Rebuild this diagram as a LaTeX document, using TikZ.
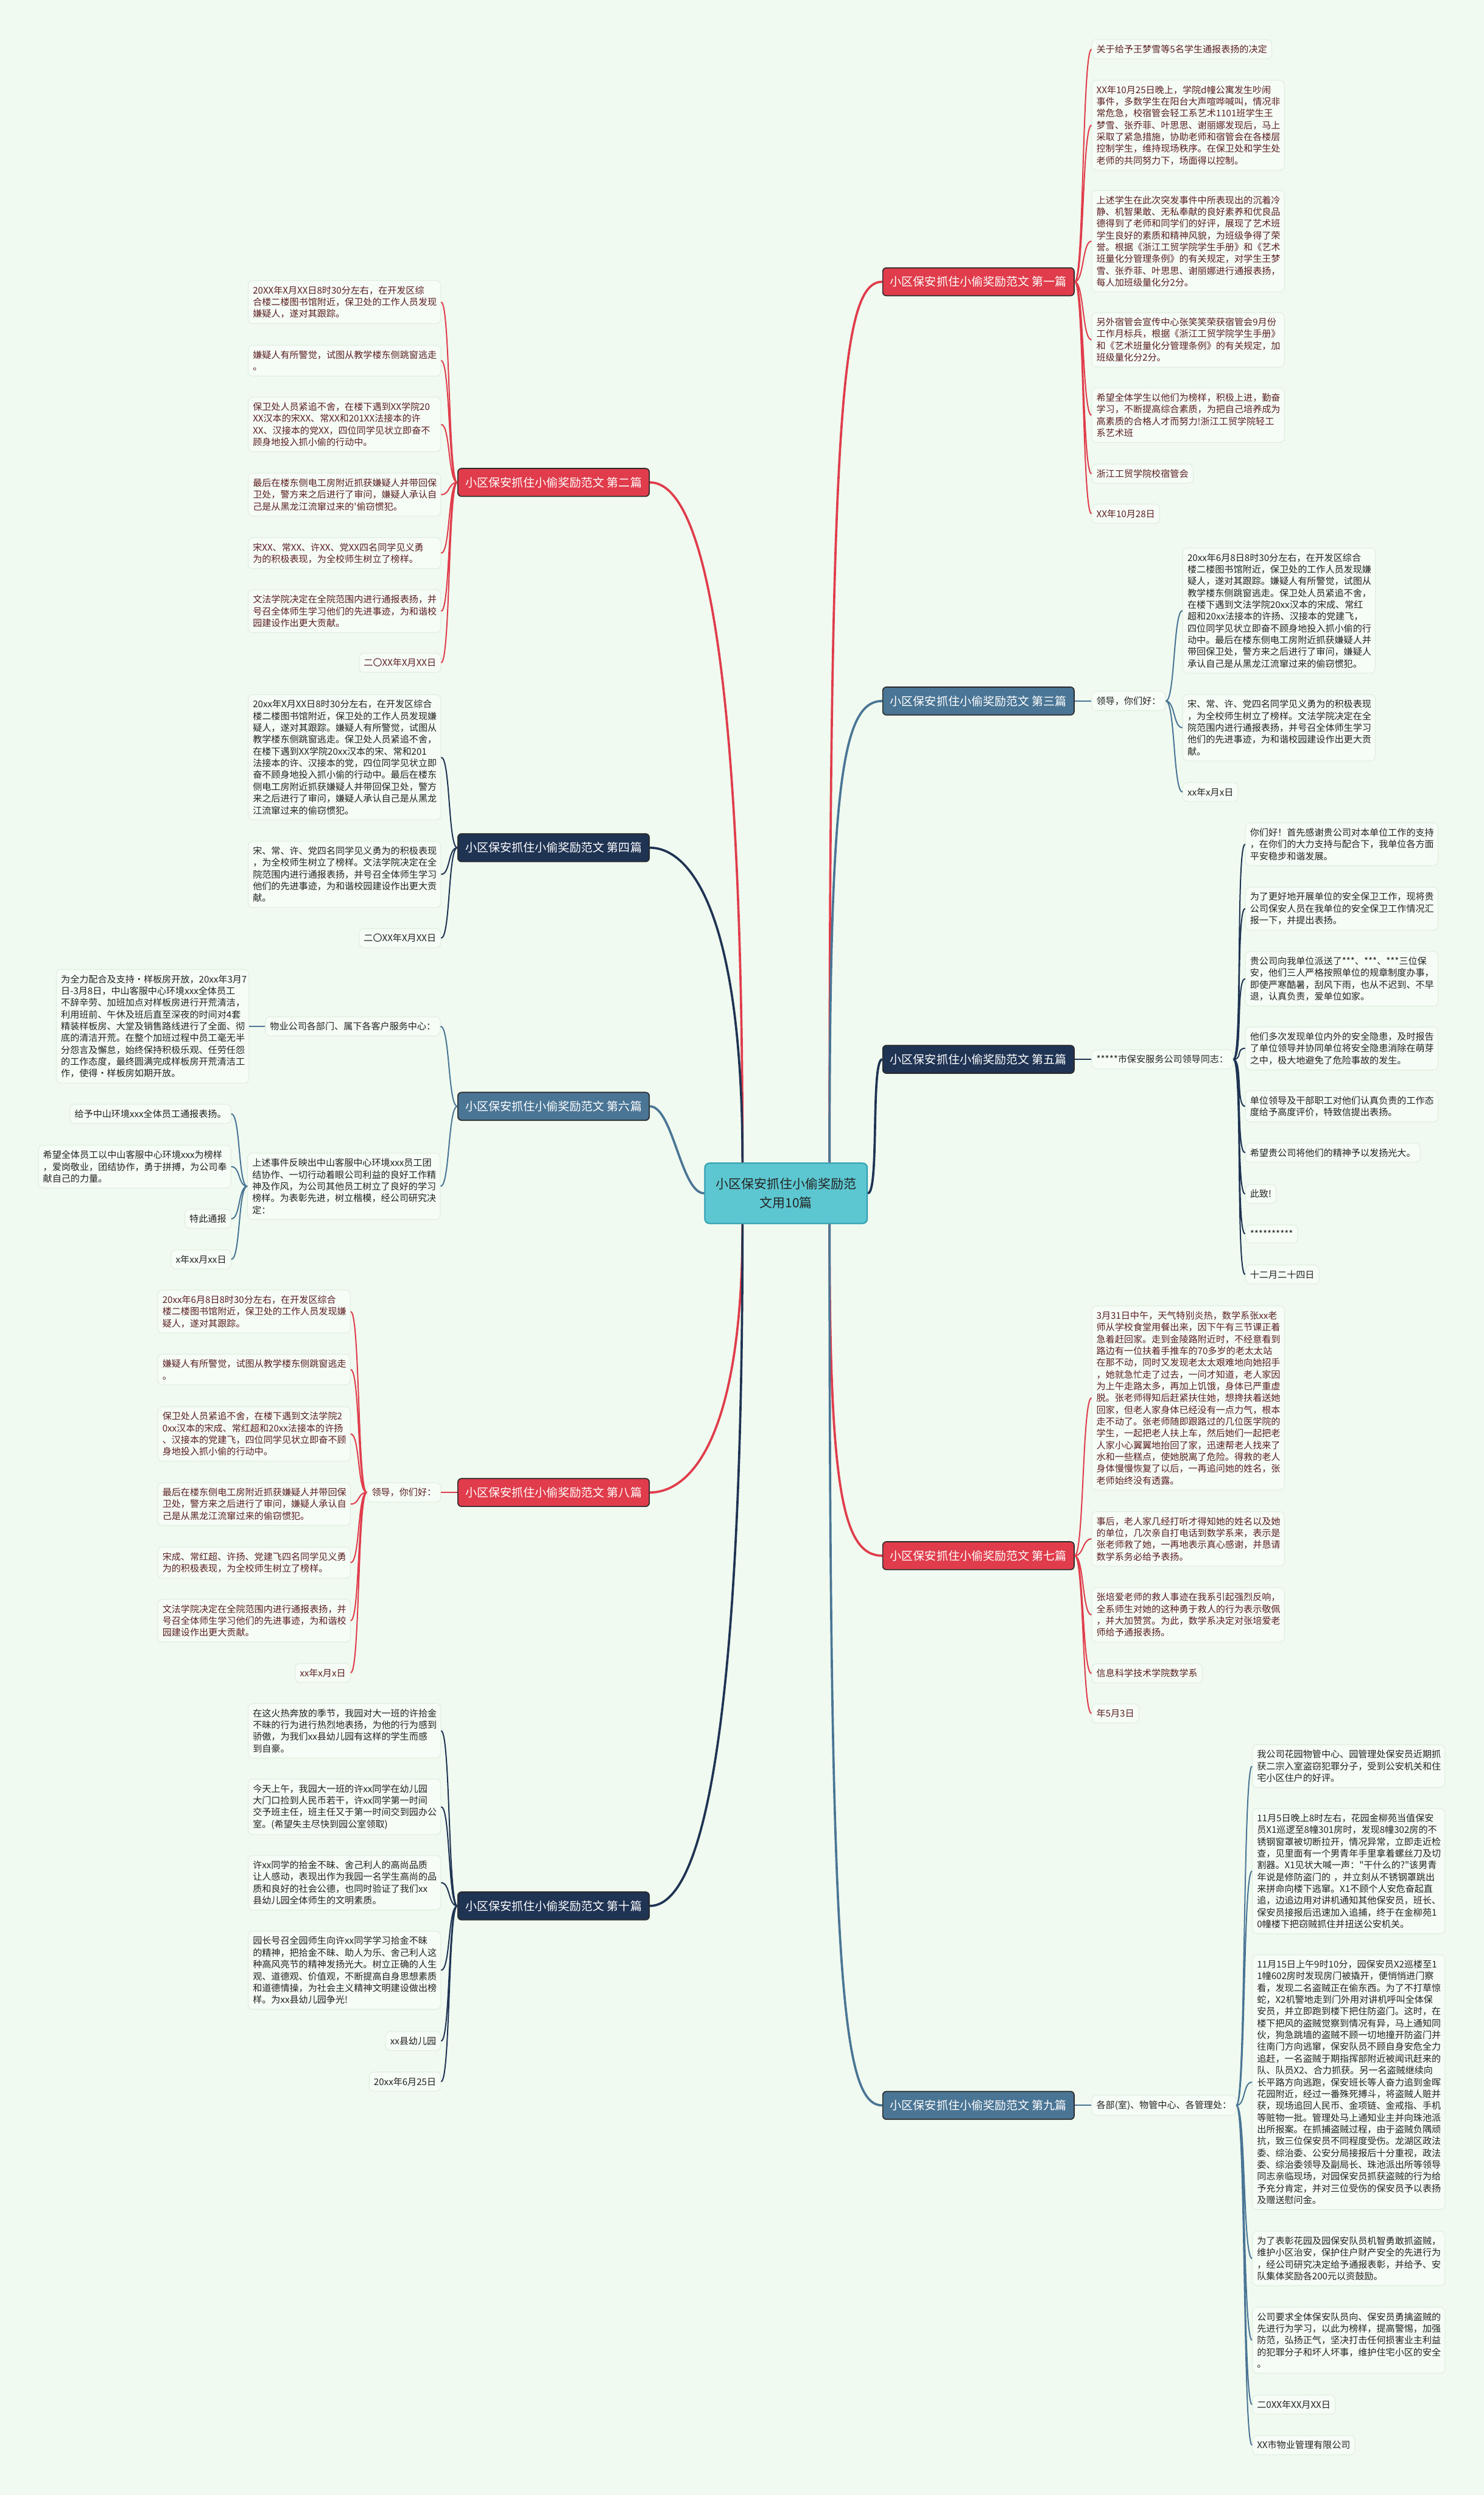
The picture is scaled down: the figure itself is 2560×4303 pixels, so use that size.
\documentclass[tikz,border=0pt]{standalone}
\usepackage{fontspec}
\newfontfamily\cjk{Noto Sans CJK SC}
\usepackage{tikz}
\usetikzlibrary{calc}

\definecolor{bgc}{HTML}{F0FAF0}
\definecolor{redc}{HTML}{E03C4B}
\definecolor{navyc}{HTML}{1F3353}
\definecolor{steelc}{HTML}{4A7595}
\definecolor{rootc}{HTML}{5DC7D1}
\definecolor{rootln}{HTML}{2E9DB0}
\definecolor{leaffill}{HTML}{F6FCF6}
\definecolor{leafline}{HTML}{DFEDDF}
\definecolor{redtxt}{HTML}{5A1F22}
\definecolor{darktxt}{HTML}{222222}
\definecolor{edgec}{HTML}{2B2B2B}

\tikzset{
  topic/.style={draw=edgec, line width=0.5pt, rounded corners=1.8pt,
    minimum width=93.9pt, minimum height=13.7pt, inner sep=0pt, text=white,
    font=\cjk\fontsize{5.69pt}{6.8pt}\selectfont},
  root/.style={draw=rootln, fill=rootc, line width=0.6pt, rounded corners=2.3pt,
    minimum width=79.7pt, minimum height=29.6pt, align=center, text=darktxt,
    font=\cjk\fontsize{6.26pt}{9.2pt}\selectfont},
  leaf/.style={draw=leafline, fill=leaffill, line width=0.3pt, rounded corners=2.3pt,
    inner xsep=2.3pt, inner ysep=2.6pt, align=left, text=darktxt,
    font=\cjk\fontsize{4.51pt}{5.78pt}\selectfont},
  rleaf/.style={leaf, anchor=west},
  lleaf/.style={leaf, anchor=east},
  rpara/.style={rleaf, text width=89.9pt},
  lpara/.style={lleaf, text width=89.9pt},
  warm/.style={text=redtxt},
  trunk/.style={line width=1.1pt},
  twig/.style={line width=0.6pt},
  tor/.style={to path={.. controls +(16,0) and +(-16,0) .. (\tikztotarget)}},
  tol/.style={to path={.. controls +(-16,0) and +(16,0) .. (\tikztotarget)}},
}

\begin{document}
\begin{tikzpicture}[x=0.01cm, y=-0.01cm]
	\useasboundingbox[fill=bgc] (0,0) rectangle (2560,4303);

	\node[root] (root) at (1356,2058) {小区保安抓住小偷奖励范\\文用10篇};

	\node[topic, fill=redc] (b1) at (1688,486) {小区保安抓住小偷奖励范文 第一篇};
	\node[topic, fill=redc] (b2) at (955,832) {小区保安抓住小偷奖励范文 第二篇};
	\node[topic, fill=steelc] (b3) at (1688,1209) {小区保安抓住小偷奖励范文 第三篇};
	\node[topic, fill=navyc] (b4) at (955,1462) {小区保安抓住小偷奖励范文 第四篇};
	\node[topic, fill=navyc] (b5) at (1688,1827) {小区保安抓住小偷奖励范文 第五篇};
	\node[topic, fill=steelc] (b6) at (955,1908) {小区保安抓住小偷奖励范文 第六篇};
	\node[topic, fill=redc] (b7) at (1688,2683) {小区保安抓住小偷奖励范文 第七篇};
	\node[topic, fill=redc] (b8) at (955,2574) {小区保安抓住小偷奖励范文 第八篇};
	\node[topic, fill=steelc] (b9) at (1688,3631) {小区保安抓住小偷奖励范文 第九篇};
	\node[topic, fill=navyc] (b10) at (955,3287) {小区保安抓住小偷奖励范文 第十篇};

	\draw[redc, trunk] ([xshift=0.75cm]root.north) .. controls +(0,-1300) and +(-70,0) .. (b1.west);
	\draw[steelc, trunk] ([xshift=0.75cm]root.north) .. controls +(0,-650) and +(-70,0) .. (b3.west);
	\draw[navyc, trunk] (root.east) .. controls +(20,0) and +(-20,0) .. (b5.west);
	\draw[redc, trunk] ([xshift=0.75cm]root.south) .. controls +(0,450) and +(-70,0) .. (b7.west);
	\draw[steelc, trunk] ([xshift=0.75cm]root.south) .. controls +(0,1300) and +(-70,0) .. (b9.west);
	\draw[redc, trunk] ([xshift=-0.75cm]root.north) .. controls +(0,-1000) and +(70,0) .. (b2.east);
	\draw[navyc, trunk] ([xshift=-0.75cm]root.north) .. controls +(0,-430) and +(70,0) .. (b4.east);
	\draw[steelc, trunk] (root.west) .. controls +(-40,0) and +(40,0) .. (b6.east);
	\draw[redc, trunk] ([xshift=-0.75cm]root.south) .. controls +(0,370) and +(70,0) .. (b8.east);
	\draw[navyc, trunk] ([xshift=-0.75cm]root.south) .. controls +(0,1000) and +(70,0) .. (b10.east);

	% 第一篇
	\node[rleaf, warm] (l1a) at (1883,85) {关于给予王梦雪等5名学生通报表扬的决定};
	\node[rpara, warm] (l1b) at (1883,216) {XX年10月25日晚上，学院d幢公寓发生吵闹\\事件，多数学生在阳台大声喧哗喊叫，情况非\\常危急，校宿管会轻工系艺术1101班学生王\\梦雪、张乔菲、叶思思、谢丽娜发现后，马上\\采取了紧急措施，协助老师和宿管会在各楼层\\控制学生，维持现场秩序。在保卫处和学生处\\老师的共同努力下，场面得以控制。};
	\node[rpara, warm] (l1c) at (1883,416) {上述学生在此次突发事件中所表现出的沉着冷\\静、机智果敢、无私奉献的良好素养和优良品\\德得到了老师和同学们的好评，展现了艺术班\\学生良好的素质和精神风貌，为班级争得了荣\\誉。根据《浙江工贸学院学生手册》和《艺术\\班量化分管理条例》的有关规定，对学生王梦\\雪、张乔菲、叶思思、谢丽娜进行通报表扬，\\每人加班级量化分2分。};
	\node[rpara, warm] (l1d) at (1883,586) {另外宿管会宣传中心张笑笑荣获宿管会9月份\\工作月标兵，根据《浙江工贸学院学生手册》\\和《艺术班量化分管理条例》的有关规定，加\\班级量化分2分。};
	\node[rpara, warm] (l1e) at (1883,716) {希望全体学生以他们为榜样，积极上进，勤奋\\学习，不断提高综合素质，为把自己培养成为\\高素质的合格人才而努力!浙江工贸学院轻工\\系艺术班};
	\node[rleaf, warm] (l1f) at (1883,817) {浙江工贸学院校宿管会};
	\node[rleaf, warm] (l1g) at (1883,886) {XX年10月28日};
	\draw[redc, twig] (b1.east) to[tor] (l1a.west) (b1.east) to[tor] (l1b.west)
		(b1.east) to[tor] (l1c.west) (b1.east) to[tor] (l1d.west)
		(b1.east) to[tor] (l1e.west) (b1.east) to[tor] (l1f.west)
		(b1.east) to[tor] (l1g.west);

	% 第二篇
	\node[lpara, warm] (l2a) at (761,521) {20XX年X月XX日8时30分左右，在开发区综\\合楼二楼图书馆附近，保卫处的工作人员发现\\嫌疑人，遂对其跟踪。};
	\node[lpara, warm] (l2b) at (761,622) {嫌疑人有所警觉，试图从教学楼东侧跳窗逃走\\。};
	\node[lpara, warm] (l2c) at (761,732) {保卫处人员紧追不舍，在楼下遇到XX学院20\\XX汉本的宋XX、常XX和201XX法接本的许\\XX、汉接本的党XX，四位同学见状立即奋不\\顾身地投入抓小偷的行动中。};
	\node[lpara, warm] (l2d) at (761,853) {最后在楼东侧电工房附近抓获嫌疑人并带回保\\卫处，警方来之后进行了审问，嫌疑人承认自\\己是从黑龙江流窜过来的'偷窃惯犯。};
	\node[lpara, warm] (l2e) at (761,954) {宋XX、常XX、许XX、党XX四名同学见义勇\\为的积极表现，为全校师生树立了榜样。};
	\node[lpara, warm] (l2f) at (761,1054) {文法学院决定在全院范围内进行通报表扬，并\\号召全体师生学习他们的先进事迹，为和谐校\\园建设作出更大贡献。};
	\node[lleaf, warm] (l2g) at (761,1143) {二〇XX年X月XX日};
	\draw[redc, twig] (b2.west) to[tol] (l2a.east) (b2.west) to[tol] (l2b.east)
		(b2.west) to[tol] (l2c.east) (b2.west) to[tol] (l2d.east)
		(b2.west) to[tol] (l2e.east) (b2.west) to[tol] (l2f.east)
		(b2.west) to[tol] (l2g.east);

	% 第三篇
	\node[rleaf] (m3) at (1883,1209) {领导，你们好：};
	\node[rpara] (l3a) at (2040,1053) {20xx年6月8日8时30分左右，在开发区综合\\楼二楼图书馆附近，保卫处的工作人员发现嫌\\疑人，遂对其跟踪。嫌疑人有所警觉，试图从\\教学楼东侧跳窗逃走。保卫处人员紧追不舍，\\在楼下遇到文法学院20xx汉本的宋成、常红\\超和20xx法接本的许扬、汉接本的党建飞，\\四位同学见状立即奋不顾身地投入抓小偷的行\\动中。最后在楼东侧电工房附近抓获嫌疑人并\\带回保卫处，警方来之后进行了审问，嫌疑人\\承认自己是从黑龙江流窜过来的偷窃惯犯。};
	\node[rpara] (l3b) at (2040,1255) {宋、常、许、党四名同学见义勇为的积极表现\\，为全校师生树立了榜样。文法学院决定在全\\院范围内进行通报表扬，并号召全体师生学习\\他们的先进事迹，为和谐校园建设作出更大贡\\献。};
	\node[rleaf] (l3c) at (2040,1366) {xx年x月x日};
	\draw[steelc, twig] (b3.east) -- (m3.west);
	\draw[steelc, twig] (m3.east) to[tor] (l3a.west) (m3.east) to[tor] (l3b.west)
		(m3.east) to[tor] (l3c.west);

	% 第四篇
	\node[lpara] (l4a) at (761,1306) {20xx年X月XX日8时30分左右，在开发区综合\\楼二楼图书馆附近，保卫处的工作人员发现嫌\\疑人，遂对其跟踪。嫌疑人有所警觉，试图从\\教学楼东侧跳窗逃走。保卫处人员紧追不舍，\\在楼下遇到XX学院20xx汉本的宋、常和201\\法接本的许、汉接本的党，四位同学见状立即\\奋不顾身地投入抓小偷的行动中。最后在楼东\\侧电工房附近抓获嫌疑人并带回保卫处，警方\\来之后进行了审问，嫌疑人承认自己是从黑龙\\江流窜过来的偷窃惯犯。};
	\node[lpara] (l4b) at (761,1508) {宋、常、许、党四名同学见义勇为的积极表现\\，为全校师生树立了榜样。文法学院决定在全\\院范围内进行通报表扬，并号召全体师生学习\\他们的先进事迹，为和谐校园建设作出更大贡\\献。};
	\node[lleaf] (l4c) at (761,1618) {二〇XX年X月XX日};
	\draw[navyc, twig] (b4.west) to[tol] (l4a.east) (b4.west) to[tol] (l4b.east)
		(b4.west) to[tol] (l4c.east);

	% 第五篇
	\node[rleaf] (m5) at (1883,1827) {*****市保安服务公司领导同志：};
	\node[rpara] (l5a) at (2148,1456) {你们好！首先感谢贵公司对本单位工作的支持\\，在你们的大力支持与配合下，我单位各方面\\平安稳步和谐发展。};
	\node[rpara] (l5b) at (2148,1567) {为了更好地开展单位的安全保卫工作，现将贵\\公司保安人员在我单位的安全保卫工作情况汇\\报一下，并提出表扬。};
	\node[rpara] (l5c) at (2148,1688) {贵公司向我单位派送了***、***、***三位保\\安，他们三人严格按照单位的规章制度办事，\\即使严寒酷暑，刮风下雨，也从不迟到、不早\\退，认真负责，爱单位如家。};
	\node[rpara] (l5d) at (2148,1808) {他们多次发现单位内外的安全隐患，及时报告\\了单位领导并协同单位将安全隐患消除在萌芽\\之中，极大地避免了危险事故的发生。};
	\node[rpara] (l5e) at (2148,1908) {单位领导及干部职工对他们认真负责的工作态\\度给予高度评价，特致信提出表扬。};
	\node[rleaf] (l5f) at (2148,1988) {希望贵公司将他们的精神予以发扬光大。};
	\node[rleaf] (l5g) at (2148,2059) {此致!};
	\node[rleaf] (l5h) at (2148,2128) {**********};
	\node[rleaf] (l5i) at (2148,2198) {十二月二十四日};
	\draw[navyc, twig] (b5.east) -- (m5.west);
	\draw[navyc, twig] (m5.east) to[tor] (l5a.west) (m5.east) to[tor] (l5b.west)
		(m5.east) to[tor] (l5c.west) (m5.east) to[tor] (l5d.west)
		(m5.east) to[tor] (l5e.west) (m5.east) to[tor] (l5f.west)
		(m5.east) to[tor] (l5g.west) (m5.east) to[tor] (l5h.west)
		(m5.east) to[tor] (l5i.west);

	% 第六篇
	\node[lleaf] (m6a) at (760,1770) {物业公司各部门、属下各客户服务中心：};
	\node[lpara] (l6a) at (430,1770) {为全力配合及支持•样板房开放，20xx年3月7\\日-3月8日，中山客服中心环境xxx全体员工\\不辞辛劳、加班加点对样板房进行开荒清洁，\\利用班前、午休及班后直至深夜的时间对4套\\精装样板房、大堂及销售路线进行了全面、彻\\底的清洁开荒。在整个加班过程中员工毫无半\\分怨言及懈怠，始终保持积极乐观、任劳任怨\\的工作态度，最终圆满完成样板房开荒清洁工\\作，使得•样板房如期开放。};
	\node[lpara] (m6b) at (760,2046) {上述事件反映出中山客服中心环境xxx员工团\\结协作、一切行动着眼公司利益的良好工作精\\神及作风，为公司其他员工树立了良好的学习\\榜样。为表彰先进，树立楷模，经公司研究决\\定：};
	\node[lleaf] (l6b) at (399,1921) {给予中山环境xxx全体员工通报表扬。};
	\node[lpara] (l6c) at (399,2012) {希望全体员工以中山客服中心环境xxx为榜样\\，爱岗敬业，团结协作，勇于拼搏，为公司奉\\献自己的力量。};
	\node[lleaf] (l6d) at (399,2102) {特此通报};
	\node[lleaf] (l6e) at (399,2172) {x年xx月xx日};
	\draw[steelc, twig] (b6.west) to[tol] (m6a.east) (b6.west) to[tol] (m6b.east);
	\draw[steelc, twig] (m6a.west) -- (l6a.east);
	\draw[steelc, twig] (m6b.west) to[tol] (l6b.east) (m6b.west) to[tol] (l6c.east)
		(m6b.west) to[tol] (l6d.east) (m6b.west) to[tol] (l6e.east);

	% 第七篇
	\node[rpara, warm] (l7a) at (1883,2411) {3月31日中午，天气特别炎热，数学系张xx老\\师从学校食堂用餐出来，因下午有三节课正着\\急着赶回家。走到金陵路附近时，不经意看到\\路边有一位扶着手推车的70多岁的老太太站\\在那不动，同时又发现老太太艰难地向她招手\\，她就急忙走了过去，一问才知道，老人家因\\为上午走路太多，再加上饥饿，身体已严重虚\\脱。张老师得知后赶紧扶住她，想搀扶着送她\\回家，但老人家身体已经没有一点力气，根本\\走不动了。张老师随即跟路过的几位医学院的\\学生，一起把老人扶上车，然后她们一起把老\\人家小心翼翼地抬回了家，迅速帮老人找来了\\水和一些糕点，使她脱离了危险。得救的老人\\身体慢慢恢复了以后，一再追问她的姓名，张\\老师始终没有透露。};
	\node[rpara, warm] (l7b) at (1883,2654) {事后，老人家几经打听才得知她的姓名以及她\\的单位，几次亲自打电话到数学系来，表示是\\张老师救了她，一再地表示真心感谢，并恳请\\数学系务必给予表扬。};
	\node[rpara, warm] (l7c) at (1883,2785) {张培爱老师的救人事迹在我系引起强烈反响，\\全系师生对她的这种勇于救人的行为表示敬佩\\，并大加赞赏。为此，数学系决定对张培爱老\\师给予通报表扬。};
	\node[rleaf, warm] (l7d) at (1883,2886) {信息科学技术学院数学系};
	\node[rleaf, warm] (l7e) at (1883,2955) {年5月3日};
	\draw[redc, twig] (b7.east) to[tor] (l7a.west) (b7.east) to[tor] (l7b.west)
		(b7.east) to[tor] (l7c.west) (b7.east) to[tor] (l7d.west)
		(b7.east) to[tor] (l7e.west);

	% 第八篇
	\node[lleaf, warm] (m8) at (761,2574) {领导，你们好：};
	\node[lpara, warm] (l8a) at (605,2262) {20xx年6月8日8时30分左右，在开发区综合\\楼二楼图书馆附近，保卫处的工作人员发现嫌\\疑人，遂对其跟踪。};
	\node[lpara, warm] (l8b) at (605,2362) {嫌疑人有所警觉，试图从教学楼东侧跳窗逃走\\。};
	\node[lpara, warm] (l8c) at (605,2473) {保卫处人员紧追不舍，在楼下遇到文法学院2\\0xx汉本的宋成、常红超和20xx法接本的许扬\\、汉接本的党建飞，四位同学见状立即奋不顾\\身地投入抓小偷的行动中。};
	\node[lpara, warm] (l8d) at (605,2594) {最后在楼东侧电工房附近抓获嫌疑人并带回保\\卫处，警方来之后进行了审问，嫌疑人承认自\\己是从黑龙江流窜过来的偷窃惯犯。};
	\node[lpara, warm] (l8e) at (605,2695) {宋成、常红超、许扬、党建飞四名同学见义勇\\为的积极表现，为全校师生树立了榜样。};
	\node[lpara, warm] (l8f) at (605,2795) {文法学院决定在全院范围内进行通报表扬，并\\号召全体师生学习他们的先进事迹，为和谐校\\园建设作出更大贡献。};
	\node[lleaf, warm] (l8g) at (605,2885) {xx年x月x日};
	\draw[redc, twig] (b8.west) -- (m8.east);
	\draw[redc, twig] (m8.west) to[tol] (l8a.east) (m8.west) to[tol] (l8b.east)
		(m8.west) to[tol] (l8c.east) (m8.west) to[tol] (l8d.east)
		(m8.west) to[tol] (l8e.east) (m8.west) to[tol] (l8f.east)
		(m8.west) to[tol] (l8g.east);

	% 第九篇
	\node[rleaf] (m9) at (1883,3631) {各部(室)、物管中心、各管理处：};
	\node[rpara] (l9a) at (2160,3046) {我公司花园物管中心、园管理处保安员近期抓\\获二宗入室盗窃犯罪分子，受到公安机关和住\\宅小区住户的好评。};
	\node[rpara] (l9b) at (2160,3227) {11月5日晚上8时左右，花园金柳苑当值保安\\员X1巡逻至8幢301房时，发现8幢302房的不\\锈钢窗罩被切断拉开，情况异常，立即走近检\\查，见里面有一个男青年手里拿着螺丝刀及切\\割器。X1见状大喊一声："干什么的?"该男青\\年说是修防盗门的 ，并立刻从不锈钢罩跳出\\来拼命向楼下逃窜。X1不顾个人安危奋起直\\追，边追边用对讲机通知其他保安员，班长、\\保安员接报后迅速加入追捕，终于在金柳苑1\\0幢楼下把窃贼抓住并扭送公安机关。};
	\node[rpara] (l9c) at (2160,3591) {11月15日上午9时10分，园保安员X2巡楼至1\\1幢602房时发现房门被撬开，便悄悄进门察\\看，发现二名盗贼正在偷东西。为了不打草惊\\蛇，X2机警地走到门外用对讲机呼叫全体保\\安员，并立即跑到楼下把住防盗门。这时，在\\楼下把风的盗贼觉察到情况有异，马上通知同\\伙，狗急跳墙的盗贼不顾一切地撞开防盗门并\\往南门方向逃窜，保安队员不顾自身安危全力\\追赶，一名盗贼于期指挥部附近被闻讯赶来的\\队、队员X2、合力抓获。另一名盗贼继续向\\长平路方向逃跑，保安班长等人奋力追到金晖\\花园附近，经过一番殊死搏斗，将盗贼人赃并\\获，现场追回人民币、金项链、金戒指、手机\\等赃物一批。管理处马上通知业主并向珠池派\\出所报案。在抓捕盗贼过程，由于盗贼负隅顽\\抗，致三位保安员不同程度受伤。龙湖区政法\\委、综治委、公安分局接报后十分重视，政法\\委、综治委领导及副局长、珠池派出所等领导\\同志亲临现场，对园保安员抓获盗贼的行为给\\予充分肯定，并对三位受伤的保安员予以表扬\\及赠送慰问金。};
	\node[rpara] (l9d) at (2160,3895) {为了表彰花园及园保安队员机智勇敢抓盗贼，\\维护小区治安，保护住户财产安全的先进行为\\，经公司研究决定给予通报表彰，并给予、安\\队集体奖励各200元以资鼓励。};
	\node[rpara] (l9e) at (2160,4036) {公司要求全体保安队员向、保安员勇擒盗贼的\\先进行为学习，以此为榜样，提高警惕，加强\\防范，弘扬正气，坚决打击任何损害业主利益\\的犯罪分子和坏人坏事，维护住宅小区的安全\\。};
	\node[rleaf] (l9f) at (2160,4147) {二0XX年XX月XX日};
	\node[rleaf] (l9g) at (2160,4217) {XX市物业管理有限公司};
	\draw[steelc, twig] (b9.east) -- (m9.west);
	\draw[steelc, twig] (m9.east) to[tor] (l9a.west) (m9.east) to[tor] (l9b.west)
		(m9.east) to[tor] (l9c.west) (m9.east) to[tor] (l9d.west)
		(m9.east) to[tor] (l9e.west) (m9.east) to[tor] (l9f.west)
		(m9.east) to[tor] (l9g.west);

	% 第十篇
	\node[lpara] (l10a) at (761,2985) {在这火热奔放的季节，我园对大一班的许拾金\\不昧的行为进行热烈地表扬，为他的行为感到\\骄傲，为我们xx县幼儿园有这样的学生而感\\到自豪。};
	\node[lpara] (l10b) at (761,3116) {今天上午，我园大一班的许xx同学在幼儿园\\大门口捡到人民币若干，许xx同学第一时间\\交予班主任，班主任又于第一时间交到园办公\\室。(希望失主尽快到园公室领取)};
	\node[lpara] (l10c) at (761,3247) {许xx同学的拾金不昧、舍己利人的高尚品质\\让人感动，表现出作为我园一名学生高尚的品\\质和良好的社会公德，也同时验证了我们xx\\县幼儿园全体师生的文明素质。};
	\node[lpara] (l10d) at (761,3398) {园长号召全园师生向许xx同学学习拾金不昧\\的精神，把拾金不昧、助人为乐、舍己利人这\\种高风亮节的精神发扬光大。树立正确的人生\\观、道德观、价值观，不断提高自身思想素质\\和道德情操，为社会主义精神文明建设做出榜\\样。为xx县幼儿园争光!};
	\node[lleaf] (l10e) at (761,3520) {xx县幼儿园};
	\node[lleaf] (l10f) at (761,3590) {20xx年6月25日};
	\draw[navyc, twig] (b10.west) to[tol] (l10a.east) (b10.west) to[tol] (l10b.east)
		(b10.west) to[tol] (l10c.east) (b10.west) to[tol] (l10d.east)
		(b10.west) to[tol] (l10e.east) (b10.west) to[tol] (l10f.east);
\end{tikzpicture}
\end{document}
